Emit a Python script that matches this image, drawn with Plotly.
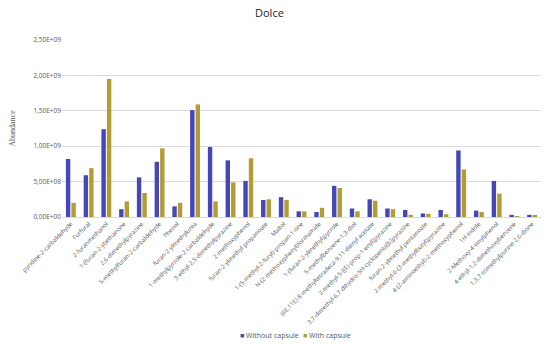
import plotly.graph_objects as go

categories = [
    "pyridine-2-carbaldehyde", "Furfural", "2-furanmethanol", "1-(furan-2-yl)ethanone",
    "2,6-dimethylpyrazine", "5-methylfuran-2-carbaldehyde", "Phenol", "furan-2-ylmethylurea",
    "1-methylpyrrole-2-carbaldehyde", "3-ethyl-2,5-dimethylpyrazine", "2-methoxyphenol",
    "furan-2-ylmethyl propanoate", "Maltol", "1-(5-methyl-2-furyl)-propan-1-one",
    "N-(2-methoxyphenyl)formamide", "1-(furan-2-ylmethyl)pyrrole", "5-methylbenzene-1,3-diol",
    "(6E,11E)-8-methyltetradeca-9,11-dienyl acetate", "2-methyl-5-[(E)-prop-1-enyl]pyrazine",
    "3,7-dimethyl-6,7-dihydro-5H-cyclopenta[b]pyrazine", "furan-2-ylmethyl pentanoate",
    "2-methyl-6-(3-methylbutyl)pyrazine", "4-(2-aminoethyl)-2-methoxyphenol", "1H-indole",
    "2-Methoxy-4-vinylphenol", "4-ethyl-1,2-dimethoxybenzene", "1,3,7-trimethylpurine-2,6-dione",
]
without_capsule = [
    0.82e9, 0.59e9, 1.24e9, 0.11e9, 0.56e9, 0.78e9, 0.15e9, 1.51e9, 0.99e9, 0.80e9,
    0.51e9, 0.24e9, 0.28e9, 0.08e9, 0.07e9, 0.44e9, 0.12e9, 0.25e9, 0.12e9, 0.10e9,
    0.05e9, 0.10e9, 0.94e9, 0.09e9, 0.51e9, 0.03e9, 0.03e9,
]
with_capsule = [
    0.20e9, 0.69e9, 1.95e9, 0.22e9, 0.34e9, 0.97e9, 0.20e9, 1.59e9, 0.22e9, 0.49e9,
    0.83e9, 0.25e9, 0.24e9, 0.08e9, 0.13e9, 0.41e9, 0.08e9, 0.23e9, 0.11e9, 0.03e9,
    0.045e9, 0.04e9, 0.67e9, 0.07e9, 0.33e9, 0.006e9, 0.025e9,
]
y_tick_values = [0, 0.5e9, 1.0e9, 1.5e9, 2.0e9, 2.5e9]
y_tick_labels = ["0,00E+00", "5,00E+08", "1,00E+09", "1,50E+09", "2,00E+09", "2,50E+09"]

series_names = ["Without capsule", "With capsule"]
series_colors = ["#4646b6", "#b39c36"]

fig = go.Figure()
for name, vals, col in zip(series_names, [without_capsule, with_capsule], series_colors):
    fig.add_trace(go.Bar(x=categories, y=vals, name=name, showlegend=False,
                         marker=dict(color=col, line=dict(width=0))))

# compact legend at the bottom, built from text annotations
legend_x = [0.367, 0.499]
for name, col, lx in zip(series_names, series_colors, legend_x):
    fig.add_annotation(
        xref="paper", yref="paper", x=lx, y=-0.667, xanchor="left", yanchor="middle",
        showarrow=False,
        text=f"<span style='color:{col};font-size:7px'>■</span> {name}",
        font=dict(family="Open Sans", size=7, color="#595959"),
    )

# title
fig.add_annotation(
    xref="paper", yref="paper", x=0.434, y=1.158, xanchor="center", yanchor="middle",
    showarrow=False, text="Dolce",
    font=dict(family="Open Sans", size=11, color="#262626"),
)

# the page body adds an 8px offset, so the figure is sized to fit the window
fig.update_layout(
    width=542, height=338,
    margin=dict(l=54, r=9, t=32, b=129),
    paper_bgcolor="white", plot_bgcolor="white",
    barmode="group", bargap=0.38, bargroupgap=0.2,
    font=dict(family="Open Sans", size=6, color="#595959"),
    showlegend=False,
)
fig.update_xaxes(tickangle=-45, tickfont=dict(size=6, color="#595959"),
                 showgrid=False, showline=True, linecolor="#d9d9d9", linewidth=1,
                 ticks="", automargin=False)
fig.update_yaxes(range=[0, 2.5e9], tickvals=y_tick_values, ticktext=y_tick_labels,
                 tickfont=dict(size=6.5, color="#595959"),
                 showgrid=True, gridcolor="#dcdcdc", gridwidth=1, zeroline=False,
                 showline=False, ticks="", automargin=False,
                 title=dict(text="Abundance", standoff=18,
                            font=dict(family="Liberation Serif", size=8, color="#595959")))

fig.write_html("out.html")
